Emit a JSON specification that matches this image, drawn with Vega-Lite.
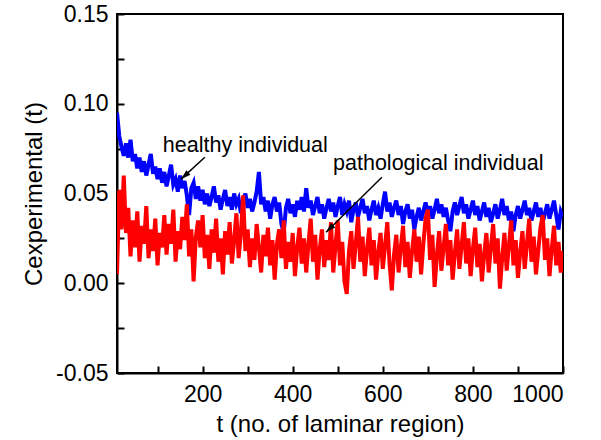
{
  "$schema": "https://vega.github.io/schema/vega-lite/v6.json",
  "width": 446,
  "height": 359,
  "autosize": "none",
  "padding": {"left": 117, "top": 14, "right": 38, "bottom": 67},
  "background": "white",
  "config": {
    "view": {"stroke": "black", "strokeWidth": 2},
    "font": "Liberation Sans",
    "axis": {
      "domainColor": "black", "domainWidth": 2, "tickColor": "black", "tickWidth": 2,
      "labelColor": "black", "labelFont": "Liberation Sans", "labelFontSize": 23,
      "titleColor": "black", "titleFont": "Liberation Sans", "titleFontSize": 24, "titleFontWeight": "normal",
      "grid": false
    }
  },
  "datasets": {
    "series": [
      {"t":10,"h":0.095,"p":0.005},{"t":15,"h":0.082,"p":0.052},{"t":20,"h":0.076,"p":0.030},{"t":25,"h":0.071,"p":0.060},{"t":30,"h":0.078,"p":0.028},
      {"t":35,"h":0.070,"p":0.042},{"t":40,"h":0.080,"p":0.015},{"t":45,"h":0.068,"p":0.035},{"t":50,"h":0.072,"p":0.020},{"t":55,"h":0.064,"p":0.040},
      {"t":60,"h":0.070,"p":0.012},{"t":65,"h":0.062,"p":0.032},{"t":70,"h":0.068,"p":0.022},{"t":75,"h":0.060,"p":0.043},{"t":80,"h":0.066,"p":0.014},
      {"t":85,"h":0.072,"p":0.030},{"t":90,"h":0.061,"p":0.018},{"t":95,"h":0.065,"p":0.036},{"t":100,"h":0.058,"p":0.010},{"t":105,"h":0.064,"p":0.028},
      {"t":110,"h":0.056,"p":0.020},{"t":115,"h":0.062,"p":0.038},{"t":120,"h":0.054,"p":0.016},{"t":125,"h":0.060,"p":0.033},{"t":130,"h":0.066,"p":0.022},
      {"t":135,"h":0.055,"p":0.041},{"t":140,"h":0.058,"p":0.012},{"t":145,"h":0.051,"p":0.029},{"t":150,"h":0.060,"p":0.019},{"t":155,"h":0.053,"p":0.037},
      {"t":160,"h":0.057,"p":0.024},{"t":165,"h":0.049,"p":0.044},{"t":170,"h":0.038,"p":0.015},{"t":175,"h":0.053,"p":0.030},{"t":180,"h":0.056,"p":0.001},
      {"t":185,"h":0.047,"p":0.026},{"t":190,"h":0.054,"p":0.035},{"t":195,"h":0.046,"p":0.020},{"t":200,"h":0.052,"p":0.038},{"t":205,"h":0.044,"p":0.014},
      {"t":210,"h":0.050,"p":0.027},{"t":215,"h":0.043,"p":0.008},{"t":220,"h":0.048,"p":0.030},{"t":225,"h":0.054,"p":0.017},{"t":230,"h":0.045,"p":0.036},
      {"t":235,"h":0.049,"p":0.012},{"t":240,"h":0.041,"p":0.025},{"t":245,"h":0.047,"p":0.005},{"t":250,"h":0.052,"p":0.029},{"t":255,"h":0.043,"p":0.016},
      {"t":260,"h":0.048,"p":0.034},{"t":265,"h":0.041,"p":0.011},{"t":270,"h":0.050,"p":0.024},{"t":275,"h":0.044,"p":0.039},{"t":280,"h":0.047,"p":0.014},
      {"t":285,"h":0.039,"p":0.028},{"t":290,"h":0.046,"p":0.049},{"t":295,"h":0.050,"p":0.018},{"t":300,"h":0.042,"p":0.030},{"t":305,"h":0.047,"p":0.009},
      {"t":310,"h":0.040,"p":0.025},{"t":315,"h":0.045,"p":0.013},{"t":320,"h":0.051,"p":0.033},{"t":325,"h":0.062,"p":0.020},{"t":330,"h":0.044,"p":0.006},
      {"t":335,"h":0.048,"p":0.027},{"t":340,"h":0.040,"p":0.015},{"t":345,"h":0.046,"p":0.031},{"t":350,"h":0.036,"p":0.010},{"t":355,"h":0.044,"p":0.024},
      {"t":360,"h":0.048,"p":0.002},{"t":365,"h":0.040,"p":0.022},{"t":370,"h":0.045,"p":0.030},{"t":375,"h":0.033,"p":0.014},{"t":380,"h":0.028,"p":0.035},
      {"t":385,"h":0.042,"p":0.008},{"t":390,"h":0.047,"p":0.023},{"t":395,"h":0.039,"p":0.012},{"t":400,"h":0.044,"p":0.028},{"t":405,"h":0.037,"p":0.004},
      {"t":410,"h":0.046,"p":0.020},{"t":415,"h":0.041,"p":0.031},{"t":420,"h":0.048,"p":0.011},{"t":425,"h":0.040,"p":0.025},{"t":430,"h":0.053,"p":0.006},
      {"t":435,"h":0.042,"p":0.022},{"t":440,"h":0.046,"p":0.036},{"t":445,"h":0.038,"p":0.012},{"t":450,"h":0.043,"p":0.027},{"t":455,"h":0.048,"p":0.002},
      {"t":460,"h":0.039,"p":0.019},{"t":465,"h":0.044,"p":0.030},{"t":470,"h":0.036,"p":0.009},{"t":475,"h":0.042,"p":0.024},{"t":480,"h":0.047,"p":0.013},
      {"t":485,"h":0.040,"p":0.034},{"t":490,"h":0.045,"p":0.006},{"t":495,"h":0.037,"p":0.021},{"t":500,"h":0.043,"p":0.035},{"t":505,"h":0.048,"p":0.010},
      {"t":510,"h":0.038,"p":0.023},{"t":515,"h":0.044,"p":0.001},{"t":520,"h":0.040,"p":-0.006},{"t":525,"h":0.046,"p":0.018},{"t":530,"h":0.034,"p":0.029},
      {"t":535,"h":0.041,"p":0.008},{"t":540,"h":0.045,"p":0.022},{"t":545,"h":0.037,"p":0.037},{"t":550,"h":0.042,"p":0.012},{"t":555,"h":0.047,"p":0.026},
      {"t":560,"h":0.039,"p":0.004},{"t":565,"h":0.043,"p":0.019},{"t":570,"h":0.035,"p":0.031},{"t":575,"h":0.041,"p":0.010},{"t":580,"h":0.046,"p":0.024},
      {"t":585,"h":0.038,"p":0.002},{"t":590,"h":0.042,"p":0.017},{"t":595,"h":0.036,"p":0.028},{"t":600,"h":0.044,"p":0.008},{"t":605,"h":0.051,"p":0.021},
      {"t":610,"h":0.040,"p":0.034},{"t":615,"h":0.045,"p":0.011},{"t":620,"h":0.037,"p":-0.004},{"t":625,"h":0.042,"p":0.016},{"t":630,"h":0.046,"p":0.027},
      {"t":635,"h":0.038,"p":0.006},{"t":640,"h":0.043,"p":0.020},{"t":645,"h":0.033,"p":0.032},{"t":650,"h":0.040,"p":0.009},{"t":655,"h":0.044,"p":0.023},
      {"t":660,"h":0.036,"p":0.003},{"t":665,"h":0.041,"p":0.018},{"t":670,"h":0.030,"p":0.030},{"t":675,"h":0.037,"p":0.012},{"t":680,"h":0.042,"p":0.026},
      {"t":685,"h":0.035,"p":0.005},{"t":690,"h":0.040,"p":0.022},{"t":695,"h":0.045,"p":0.036},{"t":700,"h":0.038,"p":0.041},{"t":705,"h":0.043,"p":0.013},
      {"t":710,"h":0.036,"p":0.027},{"t":715,"h":0.041,"p":-0.002},{"t":720,"h":0.047,"p":0.015},{"t":725,"h":0.039,"p":0.029},{"t":730,"h":0.044,"p":0.007},
      {"t":735,"h":0.037,"p":0.020},{"t":740,"h":0.042,"p":0.033},{"t":745,"h":0.035,"p":0.010},{"t":750,"h":0.029,"p":0.024},{"t":755,"h":0.040,"p":0.002},
      {"t":760,"h":0.045,"p":0.017},{"t":765,"h":0.038,"p":0.030},{"t":770,"h":0.043,"p":0.008},{"t":775,"h":0.048,"p":0.021},{"t":780,"h":0.039,"p":0.034},
      {"t":785,"h":0.044,"p":0.011},{"t":790,"h":0.036,"p":0.025},{"t":795,"h":0.041,"p":0.004},{"t":800,"h":0.046,"p":0.019},{"t":805,"h":0.038,"p":0.031},
      {"t":810,"h":0.043,"p":0.009},{"t":815,"h":0.035,"p":0.022},{"t":820,"h":0.040,"p":0.001},{"t":825,"h":0.045,"p":0.016},{"t":830,"h":0.037,"p":0.028},
      {"t":835,"h":0.042,"p":0.006},{"t":840,"h":0.034,"p":0.020},{"t":845,"h":0.039,"p":0.033},{"t":850,"h":0.044,"p":0.011},{"t":855,"h":0.036,"p":0.025},
      {"t":860,"h":0.041,"p":-0.003},{"t":865,"h":0.047,"p":0.014},{"t":870,"h":0.038,"p":0.028},{"t":875,"h":0.043,"p":0.007},{"t":880,"h":0.035,"p":0.021},
      {"t":885,"h":0.040,"p":0.035},{"t":890,"h":0.029,"p":0.010},{"t":895,"h":0.038,"p":0.024},{"t":900,"h":0.043,"p":0.003},{"t":905,"h":0.036,"p":0.017},
      {"t":910,"h":0.041,"p":0.029},{"t":915,"h":0.046,"p":0.008},{"t":920,"h":0.038,"p":0.022},{"t":925,"h":0.042,"p":0.036},{"t":930,"h":0.035,"p":0.012},
      {"t":935,"h":0.040,"p":0.026},{"t":940,"h":0.045,"p":0.005},{"t":945,"h":0.037,"p":0.018},{"t":950,"h":0.042,"p":0.031},{"t":955,"h":0.034,"p":0.038},
      {"t":960,"h":0.039,"p":0.013},{"t":965,"h":0.044,"p":0.025},{"t":970,"h":0.036,"p":0.004},{"t":975,"h":0.041,"p":0.019},{"t":980,"h":0.046,"p":0.032},
      {"t":985,"h":0.038,"p":0.010},{"t":990,"h":0.030,"p":0.023},{"t":995,"h":0.040,"p":0.006},{"t":1000,"h":0.037,"p":0.018}
    ],
    "notes": [
      {"label": "healthy individual", "tx": 111.8, "ty": 0.073, "x1": 205, "y1": 0.0702, "x2": 152, "y2": 0.058, "ang": 228},
      {"label": "pathological individual", "tx": 489.6, "ty": 0.063, "x1": 598, "y1": 0.0591, "x2": 474, "y2": 0.0284, "ang": 225.5}
    ]
  },
  "encoding": {
    "x": {
      "type": "quantitative",
      "scale": {"domain": [10, 1000], "nice": false, "zero": false},
      "axis": {
        "title": "t (no. of laminar region)",
        "values": [100, 200, 300, 400, 500, 600, 700, 800, 900, 1000],
        "labelExpr": "datum.value % 200 === 0 ? format(datum.value, 'd') : ''",
        "tickSize": -7,
        "encode": {"ticks": {"update": {"y2": {"signal": "datum.value % 200 === 0 ? -7 : -4"}}}},
        "labelPadding": 17,
        "titlePadding": 6
      }
    },
    "y": {
      "type": "quantitative",
      "scale": {"domain": [-0.05, 0.15], "nice": false, "zero": false},
      "axis": {
        "title": "Cexperimental  (t)",
        "values": [-0.05, -0.025, 0, 0.025, 0.05, 0.075, 0.1, 0.125, 0.15],
        "labelExpr": "round(datum.value * 1000) % 50 === 0 ? (datum.value < 0 ? '-' + format(-datum.value, '.2f') : format(datum.value, '.2f')) : ''",
        "tickSize": -7,
        "encode": {"ticks": {"update": {"x2": {"signal": "round(datum.value * 1000) % 50 === 0 ? 7 : 4"}}}},
        "labelPadding": 16,
        "titlePadding": 9
      }
    }
  },
  "layer": [
    {
      "data": {"name": "series"},
      "mark": {"type": "line", "color": "#0000FF", "strokeWidth": 4, "clip": true},
      "encoding": {"x": {"field": "t"}, "y": {"field": "h"}}
    },
    {
      "data": {"name": "series"},
      "mark": {"type": "line", "color": "#FF0000", "strokeWidth": 4, "clip": true},
      "encoding": {"x": {"field": "t"}, "y": {"field": "p"}}
    },
    {
      "data": {"name": "notes"},
      "mark": {"type": "rule", "color": "black", "strokeWidth": 1.5},
      "encoding": {"x": {"field": "x1"}, "y": {"field": "y1"}, "x2": {"field": "x2"}, "y2": {"field": "y2"}}
    },
    {
      "data": {"name": "notes"},
      "mark": {"type": "point", "shape": "M0,0L0.6,2L-0.6,2Z", "filled": true, "color": "black", "size": 100, "opacity": 1},
      "encoding": {"x": {"field": "x2"}, "y": {"field": "y2"}, "angle": {"field": "ang", "type": "quantitative", "scale": null}}
    },
    {
      "data": {"name": "notes"},
      "mark": {"type": "text", "align": "left", "baseline": "alphabetic", "fontSize": 21.5, "font": "Liberation Sans", "color": "black"},
      "encoding": {"x": {"field": "tx"}, "y": {"field": "ty"}, "text": {"field": "label"}}
    }
  ]
}
